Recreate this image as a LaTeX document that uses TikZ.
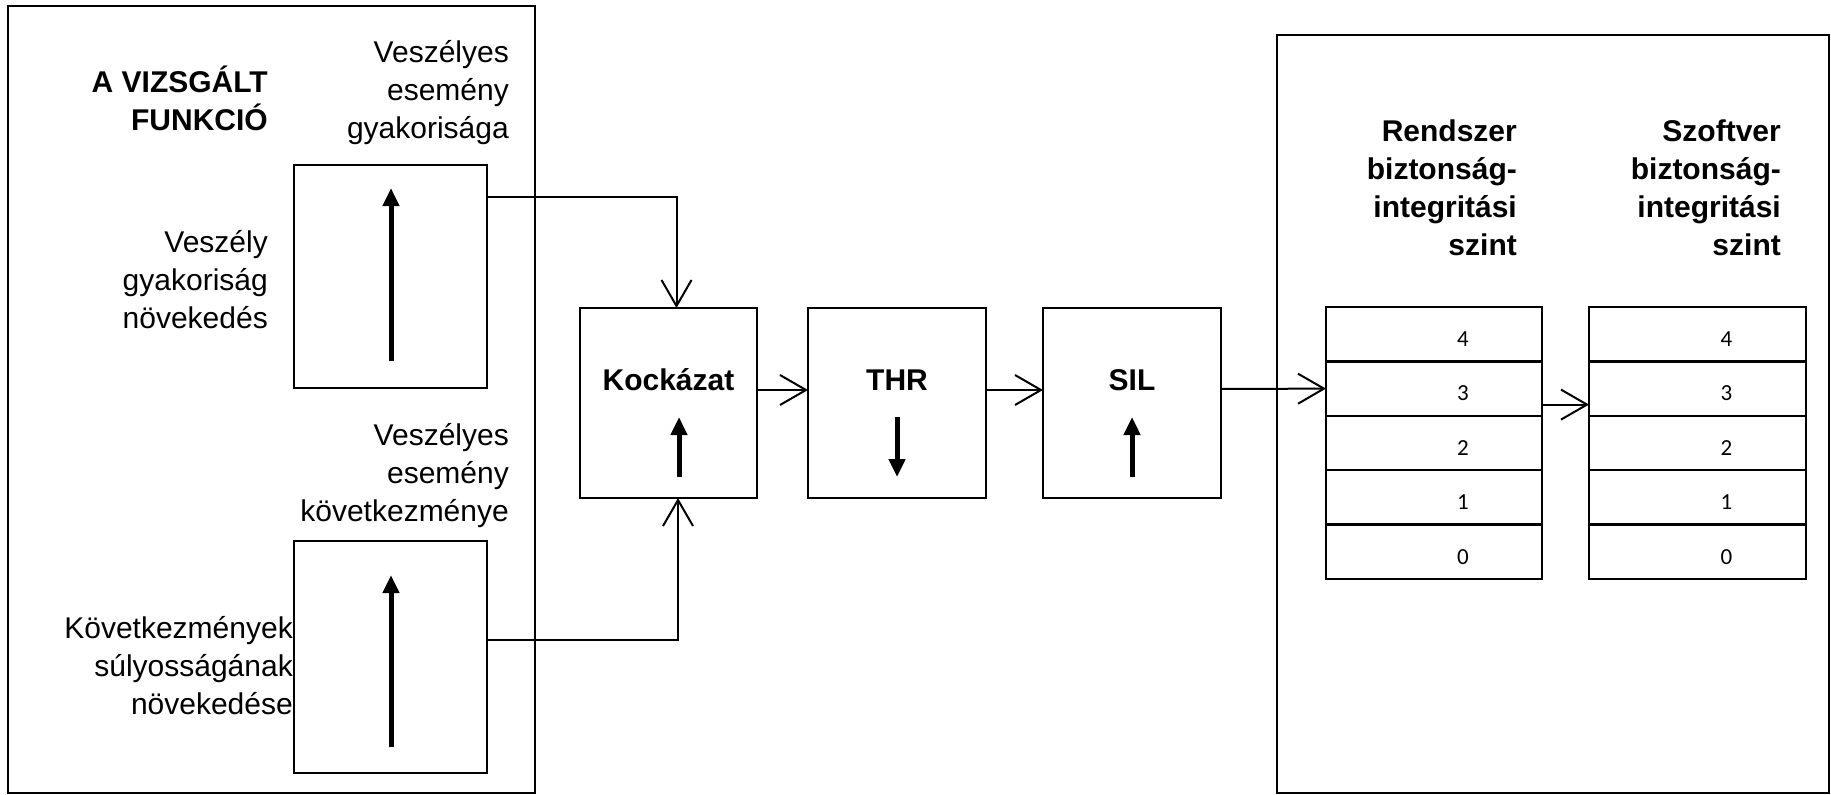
\documentclass[tikz,border=0pt]{standalone}
\usepackage{fontspec}
\setmainfont{Liberation Sans}
\newfontfamily\numfont{Carlito}
\usetikzlibrary{arrows.meta}
\tikzset{
  every node/.style={font=\fontsize{30}{38}\selectfont},
  frame/.style={draw, line width=2.5pt, anchor=north west, inner sep=0pt, outer sep=0pt},
  box/.style={draw, line width=2.5pt, inner sep=0pt, outer sep=0pt},
  cell/.style={draw, line width=2.4pt, minimum width=216pt, minimum height=54.4pt, inner sep=0pt, outer sep=0pt},
  num/.style={font=\numfont\fontsize{23}{27}\selectfont, xshift=29pt, yshift=-5pt},
  txt/.style={align=right, anchor=north east, inner sep=0pt, execute at begin node=\strut},
  head/.style={txt, font=\bfseries\fontsize{30}{38}\selectfont},
  boxlbl/.style={anchor=base, inner sep=0pt, font=\bfseries\fontsize{30}{38}\selectfont},
  conn/.style={line width=2pt, -{Straight Barb[length=26pt, width=30pt]}},
  incr/.style={line width=5pt, -{Triangle[length=18pt, width=16pt]}},
}

\begin{document}
\begin{tikzpicture}[x=1pt, y=-1pt]
  \useasboundingbox (0,0) rectangle (1831,795);

  % the two frames
  \node[frame, minimum width=527pt, minimum height=787pt] (funk) at (8,6) {};
  \node[frame, minimum width=552pt, minimum height=758pt] (szint) at (1277,35) {};

  \node[head] (cim) at (268,66) {A VIZSGÁLT\\FUNKCIÓ};
  \node[txt] (gyakt) at (509,40) {Veszélyes\\esemény\\gyakorisága};
  \node[txt] (novt) at (268,230) {Veszély\\gyakoriság\\növekedés};
  \node[txt] (kovt) at (509,423) {Veszélyes\\esemény\\következménye};
  \node[txt] (sulyt) at (293,616) {Következmények\\súlyosságának\\növekedése};

  \node[box, minimum width=193pt, minimum height=223pt] (gyak) at (390.5,276.5) {};
  \node[box, minimum width=193pt, minimum height=232pt] (kov) at (390.5,657) {};
  \node[box, minimum width=177pt, minimum height=190pt] (kock) at (668.5,403) {};
  \node[box, minimum width=178pt, minimum height=190pt] (thr) at (897,403) {};
  \node[box, minimum width=178pt, minimum height=190pt] (sil) at (1132,403) {};

  \node[boxlbl] (kockl) at (668.5,390) {Kockázat};
  \node[boxlbl] (thrl) at (897,390) {THR};
  \node[boxlbl] (sill) at (1132,390) {SIL};

  \draw[incr] (391,361) -- (391,188);
  \draw[incr] (391,747) -- (391,575);
  \draw[incr] (679,477) -- (679,417);
  \draw[incr] (897,417) -- (897,477);
  \draw[incr] (1132,477) -- (1132,417);

  % SIL tables
  \node[head] (rendt) at (1517,120) {Rendszer\\biztonság-\\integritási\\szint};
  \node[head] (szoftt) at (1781,120) {Szoftver\\biztonság-\\integritási\\szint};
  \foreach \n in {0,...,4} {
    \node[cell, label={[num]center:\n}] (rs\n) at (1434,{551.8-54.4*\n}) {};
    \node[cell, minimum width=217pt, label={[num]center:\n}] (sw\n) at (1697.5,{551.8-54.4*\n}) {};
  }

  \draw[conn] (gyak.east |- 0,197) -| ([xshift=8pt]kock.north);
  \draw[conn] (kov.east |- 0,640) -| ([xshift=9.5pt]kock.south);
  \draw[conn] (kock.east |- 0,390) -- (thr.west |- 0,390);
  \draw[conn] (thr.east |- 0,390) -- (sil.west |- 0,390);
  \draw[conn] (sil.east |- 0,389) -- (rs3.west);
  \draw[conn] ([yshift=-16pt]rs3.east) -- ([yshift=-16pt]sw3.west);
\end{tikzpicture}
\end{document}
